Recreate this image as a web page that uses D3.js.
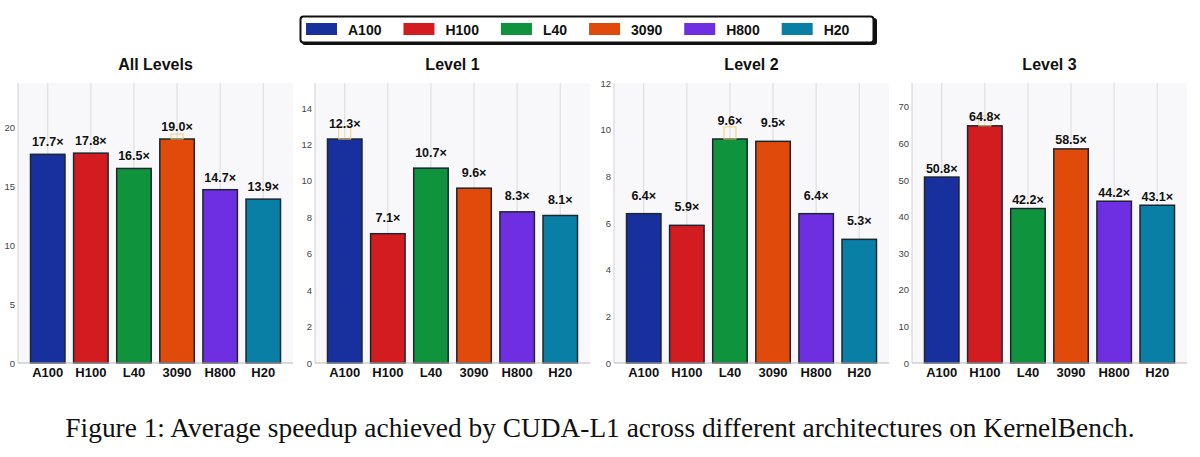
<!DOCTYPE html>
<html><head><meta charset="utf-8">
<script src="https://cdn.jsdelivr.net/npm/d3@7"></script>
<style>body{margin:0;background:#fff;}svg{display:block;}</style>
</head><body>
<svg id="c" width="1200" height="457"></svg>
<script>
// ---- data ----
const gpus = ["A100","H100","L40","3090","H800","H20"];
const panelTitles = ["All Levels","Level 1","Level 2","Level 3"];
const allLevels = [17.7,17.8,16.5,19.0,14.7,13.9];
const level1 = [12.3,7.1,10.7,9.6,8.3,8.1];
const level2 = [6.4,5.9,9.6,9.5,6.4,5.3];
const level3 = [50.8,64.8,42.2,58.5,44.2,43.1];
const yMax = [23.75,15.375,12,76.5];
const yTicks = [[0,5,10,15,20],[0,2,4,6,8,10,12,14],[0,2,4,6,8,10,12],[0,10,20,30,40,50,60,70]];
const errBest = [0.42,0.66,0.52,2.7];
const caption = "Figure 1: Average speedup achieved by CUDA-L1 across different architectures on KernelBench.";

const colors = ["#17309e","#d21c1f","#0f943d","#e04a0a","#6e2fe2","#0a7fa6"];
const series = [allLevels, level1, level2, level3];

(function(){
const svg = d3.select("#c");
const lefts = [18,315,614,912], pw = 275, pTop = 83, pBot = 363;
const labelGap = [8,11.5,14,4.5];
const FONT = "Liberation Sans, Arial, sans-serif";

series.forEach((vals, p) => {
  const L = lefts[p];
  const x = d3.scaleBand().domain(gpus).range([L, L+pw]).paddingInner(0.2).paddingOuter(0.29);
  const y = d3.scaleLinear().domain([0, yMax[p]]).range([pBot, pTop]);
  const g = svg.append("g");
  g.append("rect").attr("x",L).attr("y",pTop).attr("width",pw).attr("height",pBot-pTop).attr("fill","#f8f8fa");
  g.selectAll(".vg").data(gpus).enter().append("line")
    .attr("x1",d=>x(d)+x.bandwidth()/2).attr("x2",d=>x(d)+x.bandwidth()/2)
    .attr("y1",pTop).attr("y2",pBot).attr("stroke","#dadada").attr("stroke-width",1);
  g.append("line").attr("x1",L).attr("x2",L).attr("y1",pTop).attr("y2",pBot).attr("stroke","#d0d0d0");
  const ya = d3.axisLeft(y).tickValues(yTicks[p]).tickSize(0).tickPadding(3);
  const yg = g.append("g").attr("transform",`translate(${L},0)`).call(ya);
  yg.select(".domain").remove();
  yg.selectAll("text").attr("font-family",FONT).attr("font-size",9.5).attr("fill","#444");
  g.selectAll(".bar").data(vals).enter().append("rect")
    .attr("x",(d,i)=>x(gpus[i])).attr("width",x.bandwidth())
    .attr("y",d=>y(d)).attr("height",d=>pBot-y(d))
    .attr("fill",(d,i)=>colors[i]).attr("stroke","#1d2530").attr("stroke-width",1.5);
  const bi = vals.indexOf(d3.max(vals));
  const bw = 12;
  const cx = x(gpus[bi]) + x.bandwidth()/2;
  g.append("rect").attr("x",cx-bw/2).attr("y",y(vals[bi]+errBest[p])).attr("width",bw)
    .attr("height",y(vals[bi])-y(vals[bi]+errBest[p])).attr("fill","none").attr("stroke","#efcf74").attr("stroke-width",1);
  g.append("line").attr("x1",L).attr("x2",L+pw).attr("y1",pBot).attr("y2",pBot).attr("stroke","#b8b8b8").attr("stroke-width",1.2);
  g.selectAll(".vl").data(vals).enter().append("text")
    .attr("x",(d,i)=>x(gpus[i])+x.bandwidth()/2).attr("y",d=>y(d)-labelGap[p])
    .attr("text-anchor","middle").attr("font-family",FONT)
    .attr("font-weight","bold").attr("font-size",12.5).attr("fill","#111")
    .text(d=>d.toFixed(1)+"×");
  const xa = d3.axisBottom(x).tickSize(0).tickPadding(5);
  const xg = g.append("g").attr("transform",`translate(0,${pBot})`).call(xa);
  xg.select(".domain").remove();
  xg.selectAll("text").attr("font-family",FONT).attr("font-weight","bold")
    .attr("font-size",13).attr("fill","#111").attr("dy","0.71em");
  g.append("text").attr("x",L+pw/2).attr("y",70).attr("text-anchor","middle")
    .attr("font-family",FONT).attr("font-weight","bold").attr("font-size",16)
    .attr("fill","#111").text(panelTitles[p]);
});

// legend
const lg = svg.append("g");
lg.append("rect").attr("x",302).attr("y",18).attr("width",575).attr("height",27).attr("rx",3).attr("fill","#111");
lg.append("rect").attr("x",300.5).attr("y",16.5).attr("width",573).attr("height",26).attr("rx",3)
  .attr("fill","#fff").attr("stroke","#111").attr("stroke-width",2);
let lx = 306;
gpus.forEach((gname,i) => {
  lg.append("rect").attr("x",lx).attr("y",23).attr("width",31).attr("height",12).attr("fill",colors[i]);
  const t = lg.append("text").attr("x",lx+42).attr("y",34.5).attr("font-family",FONT)
    .attr("font-weight","bold").attr("font-size",14).attr("fill","#111").text(gname);
  lx += 42 + t.node().getComputedTextLength() + 22;
});

// caption
const cap = svg.append("text").attr("x",600).attr("y",437).attr("text-anchor","middle")
  .attr("font-family","Liberation Serif, Times New Roman, serif").attr("font-size",25).attr("fill","#111").text(caption);
const w = cap.node().getComputedTextLength();
cap.attr("font-size", 25*1070/w);
})();
</script>
</body></html>
